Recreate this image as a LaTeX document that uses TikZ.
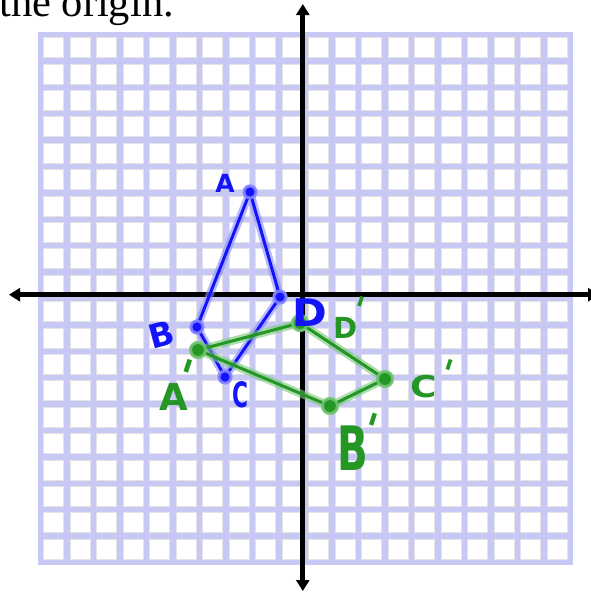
\documentclass[tikz,border=0pt]{standalone}
\usepackage{fontspec}
\setmainfont{Liberation Serif}
\newfontfamily\hand{DejaVu Sans}
\usetikzlibrary{arrows.meta}
\definecolor{gridlav}{RGB}{200,200,245}
\definecolor{cellgray}{RGB}{228,228,228}
\definecolor{inkblue}{RGB}{20,20,250}
\definecolor{haloblue}{RGB}{140,140,255}
\definecolor{inkgreen}{RGB}{35,150,35}
\definecolor{halogreen}{RGB}{120,200,120}
\newcommand{\pr}{\rotatebox{-18}{\scalebox{1.1}[1.3]{\textquotesingle}}}
\tikzset{
  cell/.style={fill=white, draw=cellgray, line width=1pt},
  axis/.style={draw=black, line width=5pt, {Triangle[length=11pt,width=13pt]}-{Triangle[length=11pt,width=13pt]}},
  bline/.style={draw=inkblue, line width=3pt, line join=round, line cap=round,
    preaction={draw=haloblue, line width=8pt, opacity=0.6, line cap=round, line join=round}},
  gline/.style={draw=inkgreen, line width=3pt, line join=round, line cap=round,
    preaction={draw=halogreen, line width=8pt, opacity=0.6, line cap=round, line join=round}},
  bdot/.style={circle, fill=inkblue, draw=haloblue, draw opacity=0.8, line width=3pt, minimum size=12pt, inner sep=0pt},
  gdot/.style={circle, fill=inkgreen, draw=halogreen, draw opacity=0.8, line width=3pt, minimum size=15pt, inner sep=0pt},
  blab/.style={text=inkblue, inner sep=0pt},
  glab/.style={text=inkgreen, inner sep=0pt, anchor=base west},
}
\begin{document}
\begin{tikzpicture}[x=1pt,y=-1pt]
\useasboundingbox (0,0) rectangle (590,592);
% caption fragment
\node[anchor=base west, inner sep=0pt, font=\fontsize{42.5}{50}\selectfont] (cap) at (-1,16) {the origin.};
% grid
\fill[gridlav] (37.5,31.7) rectangle (573.1,565.3);
\foreach \i in {0,...,19}{
  \foreach \j in {0,...,19}{
    \path[cell] ({40.3+\i*26.5+3.25},{34.5+\j*26.4+3.25}) rectangle ++(20,19.9);
  }
}
% axes
\coordinate (xl) at (9,294.7);
\coordinate (xr) at (599,294.7);
\coordinate (yt) at (302.8,4);
\coordinate (yb) at (302.8,591);
\draw[axis] (xl) -- (xr);
\draw[axis] (yt) -- (yb);
% blue quadrilateral ABCD
\node[bdot] (A) at (250,192) {};
\node[bdot] (B) at (197,327) {};
\node[bdot] (C) at (225,377) {};
\node[bdot] (D) at (280,297) {};
\draw[bline] (A.center) -- (B.center) -- (C.center) -- (D.center) -- cycle;
\node[bdot] at (A) {};
\node[bdot] at (B) {};
\node[bdot] at (C) {};
\node[bdot] at (D) {};
% green quadrilateral A'B'C'D'
\node[gdot] (A1) at (198,350) {};
\node[gdot] (D1) at (300,323) {};
\node[gdot] (C1) at (385,379) {};
\node[gdot] (B1) at (330,406) {};
\draw[gline] (A1.center) -- (D1.center) -- (C1.center) -- (B1.center) -- cycle;
\node[gdot] at (A1) {};
\node[gdot] at (D1) {};
\node[gdot] at (C1) {};
\node[gdot] at (B1) {};
% blue labels
\node[blab, font=\hand\bfseries\fontsize{25}{26}\selectfont] (lA) at (225,183) {A};
\node[blab, font=\hand\bfseries\fontsize{33}{34}\selectfont, rotate=15] (lB) at (162,335) {B};
\node[blab, font=\hand\bfseries\fontsize{35}{36}\selectfont, xscale=0.62] (lC) at (240,395) {C};
\node[blab, font=\hand\bfseries\fontsize{38}{40}\selectfont, xscale=1.1] (lD) at (310,313) {D};
% green labels
\node[glab, font=\hand\bfseries\fontsize{37}{38}\selectfont] (lA1) at (159,410) {A\kern-14pt\raisebox{19pt}{\pr}};
\node[glab, font=\hand\bfseries\fontsize{29}{30}\selectfont] (lD1) at (333,338) {D\kern-8pt\raisebox{17pt}{\pr}};
\node[glab, font=\hand\bfseries\fontsize{30}{32}\selectfont] (lC1) at (410,397) {\scalebox{1.2}[1]{C}\kern1pt\raisebox{12pt}{\pr}};
\node[glab, font=\hand\bfseries\fontsize{35}{38}\selectfont] (lB1) at (337,470) {\scalebox{1.15}[1.75]{B}\kern-8pt\raisebox{27pt}{\pr}};
\end{tikzpicture}
\end{document}
